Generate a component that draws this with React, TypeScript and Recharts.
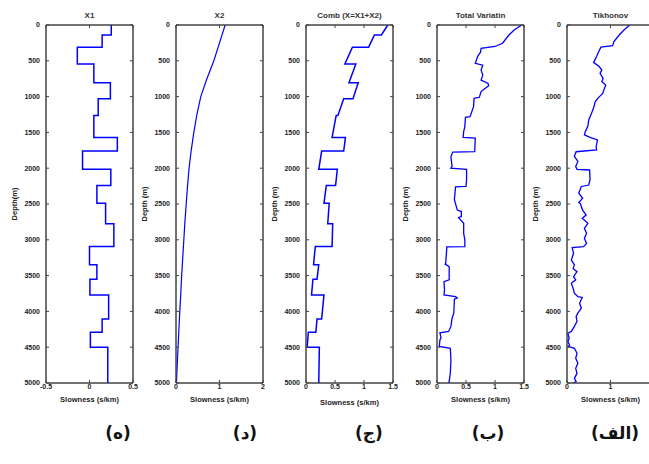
import React from 'react'
import { LineChart, Line, XAxis, YAxis, ReferenceArea } from 'recharts'

// depth ticks shared by all panels
const depthTicks = [0, 500, 1000, 1500, 2000, 2500, 3000, 3500, 4000, 4500, 5000]

// X1: blocky model, layer tops (m) and slowness (s/km)
const x1Tops = [0, 140, 310, 545, 805, 1030, 1265, 1570, 1760, 2015, 2240, 2490, 2775, 3095, 3350, 3550, 3770, 4105, 4290, 4500]
const x1Vals = [0.25, 0.145, -0.14, 0.05, 0.24, 0.1, 0.05, 0.32, -0.08, 0.245, 0.085, 0.185, 0.28, 0.0, 0.085, 0.005, 0.22, 0.145, 0.01, 0.21]

// X2: smooth trend
const x2Depth = [0, 250, 500, 750, 1000, 1250, 1500, 1750, 2000, 2250, 2500, 2750, 3000, 3250, 3500, 3750, 4000, 4250, 4500, 4750, 5000]
const x2Vals = [1.13, 1.0, 0.87, 0.71, 0.57, 0.48, 0.41, 0.35, 0.3, 0.265, 0.235, 0.205, 0.18, 0.155, 0.13, 0.11, 0.087, 0.067, 0.047, 0.028, 0.01]

// Comb (X = X1 + X2)
const combDepth = [0, 140, 140, 310, 310, 545, 545, 805, 805, 1030, 1030, 1265, 1265, 1570, 1570, 1760, 1760, 2015, 2015, 2240, 2240, 2490, 2490, 2775, 2775, 3095, 3095, 3350, 3350, 3550, 3550, 3770, 3770, 4105, 4105, 4290, 4290, 4500, 4500, 5000]
const combVals = [1.41, 1.3, 1.18, 1.08, 0.8, 0.67, 0.86, 0.74, 0.9, 0.81, 0.65, 0.55, 0.52, 0.45, 0.68, 0.65, 0.27, 0.22, 0.54, 0.51, 0.35, 0.31, 0.4, 0.375, 0.46, 0.45, 0.16, 0.13, 0.22, 0.19, 0.12, 0.095, 0.31, 0.27, 0.19, 0.17, 0.04, 0.02, 0.23, 0.22]

// Total Variation inversion
const tvDepth = [0, 70, 140, 255, 300, 325, 380, 440, 535, 560, 630, 700, 770, 815, 850, 930, 1010, 1025, 1140, 1280, 1290, 1420, 1490, 1570, 1580, 1770, 1775, 1840, 1975, 2000, 2015, 2160, 2255, 2260, 2440, 2585, 2605, 2675, 2690, 2770, 2910, 3000, 3095, 3100, 3330, 3340, 3375, 3560, 3585, 3700, 3770, 3795, 3815, 3830, 4025, 4095, 4210, 4280, 4300, 4370, 4400, 4490, 4515, 4680, 4860, 4980, 5000]
const tvVals = [1.46, 1.33, 1.24, 1.13, 1.0, 0.76, 0.75, 0.7, 0.66, 0.79, 0.76, 0.79, 0.76, 0.88, 0.89, 0.76, 0.73, 0.64, 0.63, 0.57, 0.49, 0.48, 0.46, 0.45, 0.66, 0.65, 0.27, 0.24, 0.26, 0.24, 0.51, 0.51, 0.5, 0.32, 0.3, 0.35, 0.42, 0.42, 0.37, 0.46, 0.46, 0.48, 0.48, 0.17, 0.15, 0.14, 0.21, 0.21, 0.12, 0.13, 0.12, 0.32, 0.35, 0.3, 0.29, 0.26, 0.24, 0.2, 0.05, 0.07, 0.05, 0.04, 0.23, 0.24, 0.23, 0.21, 0.2]

// Tikhonov inversion
const tkDepth = [0, 70, 140, 230, 290, 310, 370, 440, 525, 540, 580, 630, 675, 745, 790, 840, 885, 955, 1010, 1070, 1160, 1255, 1325, 1410, 1490, 1535, 1570, 1605, 1700, 1745, 1770, 1835, 1905, 1975, 2015, 2025, 2160, 2235, 2255, 2350, 2420, 2480, 2490, 2585, 2655, 2700, 2770, 2840, 2910, 2980, 3050, 3095, 3110, 3190, 3280, 3350, 3400, 3445, 3515, 3560, 3605, 3675, 3745, 3795, 3805, 3885, 3955, 4025, 4070, 4140, 4210, 4280, 4305, 4375, 4420, 4470, 4490, 4515, 4585, 4655, 4725, 4795, 4865, 4935, 4980, 5000]
const tkVals = [1.44, 1.31, 1.2, 1.08, 1.05, 0.78, 0.73, 0.68, 0.61, 0.65, 0.74, 0.8, 0.76, 0.83, 0.8, 0.89, 0.86, 0.82, 0.73, 0.65, 0.61, 0.55, 0.5, 0.48, 0.42, 0.4, 0.53, 0.7, 0.67, 0.68, 0.21, 0.17, 0.25, 0.2, 0.23, 0.52, 0.53, 0.5, 0.33, 0.27, 0.36, 0.27, 0.3, 0.36, 0.44, 0.35, 0.48, 0.4, 0.45, 0.4, 0.45, 0.38, 0.12, 0.15, 0.1, 0.17, 0.14, 0.23, 0.15, 0.2, 0.1, 0.14, 0.17, 0.25, 0.35, 0.29, 0.33, 0.25, 0.21, 0.23, 0.17, 0.1, 0.02, 0.05, 0.02, 0.06, 0.03, 0.17, 0.23, 0.2, 0.25, 0.2, 0.23, 0.17, 0.21, 0.14]

const panelLabels = ['(ه)', '(د)', '(ج)', '(ب)', '(الف)']
const panelLabelX = [118, 245, 369, 488, 615]

const pairs = (ds: number[], vs: number[]) => ds.map((d, i) => ({ d, s: vs[i] }))

const steps = (tops: number[], vals: number[]) => {
  const out: { d: number, s: number }[] = []
  tops.forEach((t, i) => {
    out.push({ d: t, s: vals[i] })
    out.push({ d: i + 1 < tops.length ? tops[i + 1] : 5000, s: vals[i] })
  })
  return out
}

const FONT = '"Liberation Sans", Arial, sans-serif'
const AXIS = '#444'
const PLOT_W = 87
const Y_W = 46
const R_PAD = 12

type PanelProps = {
  left: number
  title: string
  yLabel: string
  data: { d: number, s: number }[]
  domain: [number, number]
  ticks: number[]
  width?: number
  xLabelOffset?: number
}

function Panel({ left, title, yLabel, data, domain, ticks, width = 1.5, xLabelOffset = 18 }: PanelProps) {
  const tickStyle = { fontSize: 7, fontWeight: 700, fill: '#222', fontFamily: FONT }
  const noTick = () => <g />
  return (
    <div style={{ position: 'absolute', left: left - Y_W, top: 0 }}>
      <LineChart
        width={Y_W + PLOT_W + R_PAD + 1}
        height={420}
        layout="vertical"
        data={data}
        margin={{ top: 24, right: R_PAD, bottom: 0, left: 0 }}
      >
        <XAxis
          xAxisId="b"
          type="number"
          dataKey="s"
          domain={domain}
          ticks={ticks}
          allowDataOverflow
          height={37}
          stroke={AXIS}
          tickSize={-3}
          tickMargin={4}
          tick={tickStyle}
          interval={0}
          label={{ value: 'Slowness (s/km)', position: 'insideBottom', offset: xLabelOffset, style: { fontSize: 7.5, fontWeight: 700, fill: '#222', fontFamily: FONT } }}
        />
        <XAxis
          xAxisId="t"
          type="number"
          dataKey="s"
          orientation="top"
          domain={domain}
          ticks={ticks}
          allowDataOverflow
          height={1}
          stroke={AXIS}
          tickSize={-3}
          tick={noTick}
          interval={0}
          label={{ value: title, position: 'top', offset: 6, style: { fontSize: 8, fontWeight: 700, fill: '#333', fontFamily: FONT } }}
        />
        <YAxis
          yAxisId="l"
          type="number"
          dataKey="d"
          domain={[0, 5000]}
          ticks={depthTicks}
          allowDataOverflow
          width={Y_W}
          stroke={AXIS}
          tickSize={-3}
          tickMargin={9}
          tick={tickStyle}
          interval={0}
          label={{ value: yLabel, angle: -90, position: 'insideLeft', offset: 14, style: { textAnchor: 'middle', fontSize: 7.5, fontWeight: 700, fill: '#222', fontFamily: FONT } }}
        />
        <YAxis
          yAxisId="r"
          type="number"
          dataKey="d"
          orientation="right"
          domain={[0, 5000]}
          ticks={depthTicks}
          allowDataOverflow
          width={1}
          stroke={AXIS}
          tickSize={-3}
          tick={noTick}
          interval={0}
        />
        {/* box around the plot area */}
        <ReferenceArea
          xAxisId="b"
          yAxisId="l"
          x1={domain[0]}
          x2={domain[1]}
          y1={0}
          y2={5000}
          fill="none"
          fillOpacity={0}
          stroke={AXIS}
          strokeWidth={1}
          ifOverflow="visible"
        />
        <Line
          xAxisId="t"
          yAxisId="r"
          dataKey="s"
          stroke="none"
          dot={false}
          activeDot={false}
          isAnimationActive={false}
        />
        <Line
          xAxisId="b"
          yAxisId="l"
          dataKey="s"
          stroke="#0000ff"
          strokeWidth={width}
          dot={false}
          isAnimationActive={false}
        />
      </LineChart>
    </div>
  )
}

export default function App() {
  return (
    <div style={{ position: 'absolute', left: 0, top: 0, width: 649, height: 464, overflow: 'hidden', background: '#fff' }}>
      <Panel left={46} title="X1" yLabel="Depth(m)" data={steps(x1Tops, x1Vals)} domain={[-0.5, 0.5]} ticks={[-0.5, 0, 0.5]} />
      <Panel left={176} title="X2" yLabel="Depth (m)" data={pairs(x2Depth, x2Vals)} domain={[0, 2]} ticks={[0, 1, 2]} width={1.2} />
      <Panel left={306} title="Comb (X=X1+X2)" yLabel="Depth (m)" data={pairs(combDepth, combVals)} domain={[0, 1.5]} ticks={[0, 0.5, 1, 1.5]} xLabelOffset={15} />
      <Panel left={437} title="Total Variatin" yLabel="Depth (m)" data={pairs(tvDepth, tvVals)} domain={[0, 1.5]} ticks={[0, 0.5, 1, 1.5]} width={1.3} />
      <Panel left={567} title="Tikhonov" yLabel="Depth (m)" data={pairs(tkDepth, tkVals)} domain={[0, 2]} ticks={[0, 1, 2]} width={1.3} />
      {panelLabels.map((t, i) => (
        <div
          key={t}
          dir="rtl"
          style={{
            position: 'absolute',
            left: panelLabelX[i] - 40,
            width: 80,
            top: 423,
            textAlign: 'center',
            fontFamily: '"DejaVu Sans", sans-serif',
            fontWeight: 700,
            fontSize: 17,
            color: '#111',
          }}
        >
          {t}
        </div>
      ))}
    </div>
  )
}
